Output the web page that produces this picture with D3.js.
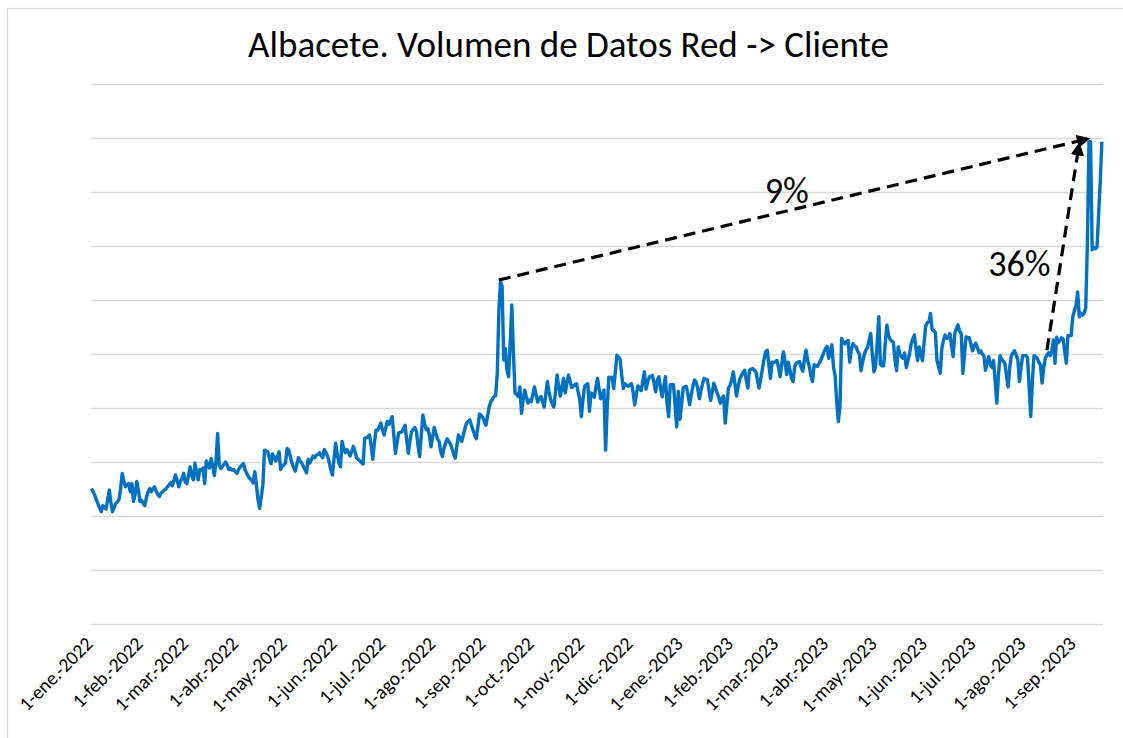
<!DOCTYPE html>
<html><head><meta charset="utf-8">
<script src="https://cdn.jsdelivr.net/npm/d3@7"></script>
<style>body{margin:0;background:#fff}svg{display:block}</style>
</head><body>
<svg id="c" width="1123" height="738"></svg>
<script>
// ---------- data ----------
const chartTitle = "Albacete. Volumen de Datos Red -> Cliente";
const firstDay = "2022-01-01";
const lastAxisDay = "2023-09-19";
const monthAbbr = ["ene.","feb.","mar.","abr.","may.","jun.","jul.","ago.","sep.","oct.","nov.","dic."];
const tickDates = ["2022-01-01","2022-02-01","2022-03-01","2022-04-01","2022-05-01","2022-06-01","2022-07-01","2022-08-01","2022-09-01","2022-10-01","2022-11-01","2022-12-01","2023-01-01","2023-02-01","2023-03-01","2023-04-01","2023-05-01","2023-06-01","2023-07-01","2023-08-01","2023-09-01"];
const yGrid = [0,10,20,30,40,50,60,70,80,90,100];
// daily volume (relative units), one per day from firstDay
const dailyVolume = [
25.1,24.5,23.9,23.0,22.3,21.5,20.8,21.9,21.6,21.3,
23.0,24.8,22.5,20.8,21.6,22.3,22.6,23.0,25.0,27.9,
26.5,25.4,25.8,26.0,24.5,26.0,22.7,24.0,26.4,24.8,
22.7,22.9,22.3,21.9,23.5,24.5,25.1,24.5,25.0,25.4,
24.6,24.0,23.6,24.2,24.5,24.8,25.0,25.4,25.8,26.2,
25.6,26.5,27.6,26.6,25.4,26.5,26.9,27.9,26.3,26.0,
27.5,29.1,27.5,26.7,29.8,28.0,26.7,28.6,28.5,28.9,
26.0,30.2,29.5,28.9,30.6,29.3,27.5,30.0,35.3,29.4,
28.8,29.2,29.6,30.0,29.4,28.6,28.8,28.5,28.6,28.2,
27.9,28.6,29.1,29.4,29.7,28.5,27.9,27.3,26.9,26.7,
26.1,28.2,25.8,23.0,21.4,23.5,25.8,32.2,32.0,31.9,
30.8,29.7,31.5,30.9,30.2,31.0,31.9,28.6,29.2,29.5,
29.8,32.5,32.2,31.0,29.8,29.0,28.3,29.5,30.8,30.2,
29.8,29.2,28.6,28.0,30.5,29.8,30.4,31.1,30.8,31.2,
31.4,31.7,31.2,30.8,32.3,31.7,31.1,30.0,28.6,27.6,
30.5,33.5,31.5,29.8,29.1,33.8,32.5,31.7,32.3,31.8,
31.1,32.0,32.9,31.9,30.8,30.5,30.2,29.9,29.6,34.4,
34.5,34.7,35.0,32.9,30.5,33.5,35.9,35.9,36.5,37.2,
36.0,35.0,36.3,37.5,37.0,37.6,38.4,35.0,31.6,33.5,
35.4,35.5,35.6,36.2,36.8,34.0,31.6,34.0,35.6,36.0,
36.4,35.6,33.0,31.0,35.0,38.7,37.2,36.0,36.2,35.0,
32.8,34.6,36.4,35.3,34.3,33.8,32.0,31.0,32.5,33.5,
34.3,33.8,33.3,32.5,31.5,30.7,33.0,35.0,34.4,33.8,
35.0,36.2,37.2,37.5,37.8,36.8,35.9,35.0,34.3,36.5,
38.9,38.6,38.3,37.5,36.8,38.5,40.2,41.2,41.6,42.1,
42.3,46.4,58.0,63.4,62.5,48.9,51.0,47.0,45.8,52.0,
59.1,50.1,42.7,42.5,42.1,43.9,39.0,41.5,43.3,42.0,
40.9,41.5,41.2,42.5,43.9,42.5,41.1,41.8,42.1,41.2,
40.2,42.5,44.9,43.0,41.6,40.8,40.2,43.0,46.1,44.0,
42.2,43.8,45.5,42.8,44.5,46.1,45.0,43.8,44.0,44.3,
44.5,43.0,41.7,38.4,41.5,44.0,44.3,44.5,39.4,42.8,
42.5,42.0,43.8,45.5,43.5,41.7,42.5,43.3,32.2,40.0,
45.7,45.6,45.7,43.6,46.5,49.8,49.4,49.0,46.0,43.6,
44.5,44.2,44.0,44.3,44.5,43.0,40.6,42.5,44.1,43.6,
43.2,45.0,46.7,43.5,44.8,45.7,45.9,46.0,44.5,43.0,
45.2,45.8,43.7,42.1,44.0,45.8,41.0,38.4,44.3,44.3,
44.3,40.5,36.5,43.1,37.9,40.5,43.7,43.9,44.0,42.3,
40.6,42.5,44.0,45.2,44.8,43.6,41.7,43.2,44.5,45.5,
45.3,45.2,43.3,41.4,43.0,44.6,43.6,42.8,42.0,40.9,
41.8,42.2,37.2,40.5,43.7,44.2,45.2,46.7,44.5,42.2,
44.0,45.3,46.0,46.5,47.0,45.2,43.7,47.0,47.2,47.3,
47.0,46.7,45.0,43.7,45.5,47.2,49.0,50.4,50.7,48.0,
45.5,48.5,48.4,48.6,48.8,47.5,45.8,48.3,50.4,48.5,
46.2,48.5,47.0,45.5,44.9,47.7,48.3,48.5,48.6,47.5,
46.8,49.0,50.7,48.8,47.7,46.0,44.9,48.0,47.8,47.7,
48.2,48.8,49.5,50.3,51.0,51.4,49.2,50.5,51.7,47.5,
46.0,41.0,37.5,40.5,52.9,52.2,51.9,52.3,52.5,48.5,
50.8,51.9,51.5,51.3,50.5,50.0,46.9,48.5,49.9,50.7,
51.2,52.5,53.8,50.0,46.7,47.7,52.0,56.9,48.1,47.8,
47.8,52.0,55.4,53.5,52.7,52.4,52.2,49.0,46.9,51.3,
50.0,49.5,49.2,50.2,47.5,48.8,50.0,51.8,52.8,53.5,
51.0,48.8,51.3,50.0,48.8,52.0,55.1,55.8,56.0,57.5,
54.5,54.3,54.0,48.8,47.6,46.4,51.0,52.5,53.5,52.9,
53.0,53.8,51.5,49.5,53.8,54.7,55.4,54.2,53.8,46.4,
50.0,53.2,53.0,53.0,51.8,50.6,51.5,52.0,51.2,50.3,
50.6,50.0,49.7,47.0,48.5,49.5,48.0,47.5,48.8,45.0,
40.9,46.0,49.7,49.0,48.7,48.2,46.0,43.9,47.5,49.7,
50.2,50.6,49.8,49.0,44.9,47.5,49.7,49.7,49.7,49.3,
44.0,38.4,45.0,49.7,49.5,49.2,48.5,48.0,44.6,47.5,
49.2,49.8,50.2,49.7,50.5,52.6,48.3,53.1,52.1,52.5,
53.0,52.8,50.5,48.3,53.4,53.4,53.4,56.9,58.0,59.0,
61.5,56.9,57.6,57.2,57.5,58.5,69.9,89.3,89.3,69.3,
69.7,69.5,69.8,76.0,82.0,89.3
];
// annotation arrows: [date, value] from -> to
const arrowFrom = [["2022-09-10", 63.7], ["2023-08-15", 50.7]];
const arrowTo   = [["2023-09-10", 89.9], ["2023-09-04", 89.0]];
const labelTexts = ["9%", "36%"];
const labelAt = [["2023-03-07", 78.0], ["2023-07-29", 64.4]];

// ---------- drawing ----------
const svg = d3.select("#c");
const FONT = "Carlito, Calibri, Lato, 'Open Sans', sans-serif";
const parse = d3.utcParse("%Y-%m-%d");
const d0 = parse(firstDay);
const series = dailyVolume.map((v, i) => ({date: d3.utcDay.offset(d0, i), v}));

const x = d3.scaleUtc().domain([d0, parse(lastAxisDay)]).range([91.5, 1103.5]);
const y = d3.scaleLinear().domain([0, 100]).range([624, 84]);

svg.append("rect").attr("x", 7.5).attr("y", 8.5).attr("width", 1300).attr("height", 900)
  .attr("fill", "#fff").attr("stroke", "#d9d9d9").attr("stroke-width", 1.3);

// gridlines
svg.append("g").attr("transform", "translate(91,0)")
  .call(d3.axisLeft(y).tickValues(yGrid).tickSize(-(1103 - 91)).tickFormat(""))
  .call(g => g.select(".domain").remove())
  .call(g => g.selectAll("line").attr("stroke", "#d9d9d9").attr("stroke-width", 1.4));

// x axis labels
const fmt = d => `${d.getUTCDate()}-${monthAbbr[d.getUTCMonth()]}-${d.getUTCFullYear()}`;
const xAxis = svg.append("g").attr("transform", "translate(0,624)")
  .call(d3.axisBottom(x).tickValues(tickDates.map(parse)).tickSize(0).tickFormat(fmt));
xAxis.select(".domain").remove();
xAxis.selectAll("text")
  .attr("font-family", FONT).attr("font-size", 19.5).attr("fill", "#000")
  .attr("text-anchor", "end").attr("dy", 0).attr("y", 0)
  .attr("transform", "translate(2,21) rotate(-45)");

// series line
svg.append("path").datum(series)
  .attr("fill", "none").attr("stroke", "#0070C0").attr("stroke-width", 3.4)
  .attr("stroke-linejoin", "round")
  .attr("d", d3.line().x(d => x(d.date)).y(d => y(d.v)));

// arrows
const defs = svg.append("defs");
defs.append("marker").attr("id", "ah").attr("viewBox", "0 0 10 10")
  .attr("refX", 9).attr("refY", 5).attr("markerWidth", 4.2).attr("markerHeight", 4.2)
  .attr("orient", "auto").append("path").attr("d", "M0,0 L10,5 L0,10 Z").attr("fill", "#000");
arrowFrom.forEach((f, i) => {
  const t = arrowTo[i];
  svg.append("line")
    .attr("x1", x(parse(f[0]))).attr("y1", y(f[1]))
    .attr("x2", x(parse(t[0]))).attr("y2", y(t[1]))
    .attr("stroke", "#000").attr("stroke-width", 3.2).attr("stroke-dasharray", "12,7")
    .attr("marker-end", "url(#ah)");
});
labelTexts.forEach((txt, i) => {
  svg.append("text").attr("x", x(parse(labelAt[i][0]))).attr("y", y(labelAt[i][1]))
    .attr("text-anchor", "middle").attr("font-family", FONT).attr("font-size", 36)
    .attr("fill", "#000").text(txt);
});

// title
svg.append("text").attr("x", 568.5).attr("y", 57).attr("text-anchor", "middle")
  .attr("font-family", FONT).attr("font-size", 37).attr("fill", "#000").text(chartTitle);
</script>
</body></html>
